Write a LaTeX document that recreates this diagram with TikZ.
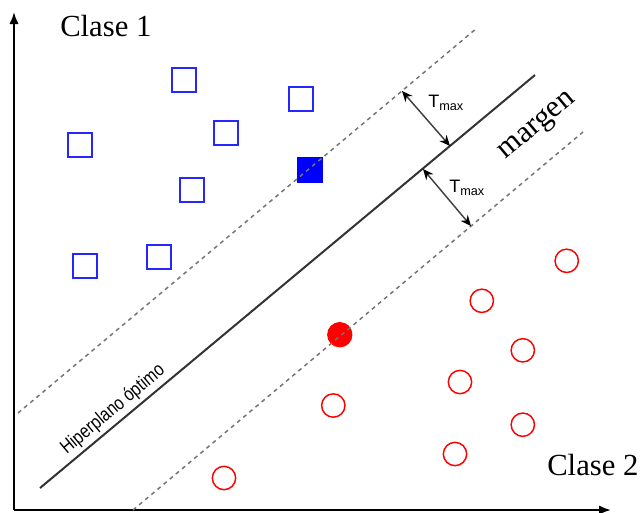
\documentclass[tikz,border=0pt]{standalone}
\usepackage{fontspec}
\setmainfont{Liberation Serif}
\setsansfont{Liberation Sans}
\newfontfamily\narrowsans[FakeStretch=0.82]{Liberation Sans}
\usetikzlibrary{arrows.meta}
\begin{document}
\begin{tikzpicture}[x=0.75pt,y=-0.75pt,
  sq/.style={draw=blue!85!white,line width=1.5pt,minimum size=18pt,inner sep=0pt},
  sqf/.style={draw=blue,fill=blue,line width=1pt,minimum size=19pt,inner sep=0pt},
  ci/.style={circle,draw=red,line width=1.1pt,minimum size=17.5pt,inner sep=0pt},
  cif/.style={circle,draw=red,fill=red,line width=1pt,minimum size=18pt,inner sep=0pt},
  axis/.style={line width=1.5pt,-{Latex[length=9pt,width=7pt]}},
  hyper/.style={line width=1.5pt,draw=black!80},
  marg/.style={dashed,dash pattern=on 3pt off 3pt,line width=1.1pt,draw=black!55},
  tarrow/.style={line width=1.1pt,draw=black!75,{Stealth[length=8pt,width=7pt,black]}-{Stealth[length=8pt,width=7pt,black]}},
  big/.style={font=\fontsize{23}{26}\selectfont},
  tlab/.style={font=\sffamily\fontsize{13.5}{14}\selectfont,inner sep=0pt}]
\useasboundingbox (0,0) rectangle (642,512);
% axes
\coordinate (o) at (14,510);
\coordinate (ytop) at (14,12);
\coordinate (xend) at (611,510);
\draw[axis] (o) -- (ytop);
\draw[axis] (o) -- (xend);
% class 1 squares
\node[sq] (s1) at (183.5,79.5) {};
\node[sq] (s2) at (301,99) {};
\node[sq] (s3) at (79.5,145) {};
\node[sq] (s4) at (226,133) {};
\node[sq] (s5) at (192,189.5) {};
\node[sq] (s6) at (84.5,266) {};
\node[sq] (s7) at (159,257) {};
\node[sqf] (sf) at (310,170) {};
% class 2 circles
\node[ci] (c1) at (566.7,260.8) {};
\node[ci] (c2) at (481.8,300.8) {};
\node[ci] (c3) at (522.8,350.3) {};
\node[ci] (c4) at (460,382) {};
\node[ci] (c5) at (333.3,405.5) {};
\node[ci] (c6) at (522.8,424.7) {};
\node[ci] (c7) at (455,454) {};
\node[ci] (c8) at (224,478) {};
\node[cif] (cf) at (339.8,334.7) {};
% lines
\coordinate (ua) at (18,413);
\coordinate (ub) at (477,28);
\coordinate (ma) at (40,488);
\coordinate (mb) at (535,75);
\coordinate (la) at (133,510);
\coordinate (lb) at (583,132);
\draw[marg] (ua) -- (ub);
\draw[marg] (la) -- (lb);
\draw[hyper] (ma) -- node[pos=0.165,sloped,above,inner sep=2.5pt,font=\narrowsans\fontsize{14.5}{15}\selectfont] (hl) {Hiperplano óptimo} (mb);
% Tmax arrows
\coordinate (t1a) at (402,91);
\coordinate (t1b) at (450,146);
\coordinate (t2a) at (423,169);
\coordinate (t2b) at (471,226);
\draw[tarrow] (t1a) -- (t1b);
\draw[tarrow] (t2a) -- (t2b);
\node[tlab,anchor=base west] (tl1) at (428,107) {T{\fontsize{9.5}{10}\selectfont\raisebox{-2.5pt}{max}}};
\node[tlab,anchor=base west] (tl2) at (449,192) {T{\fontsize{9.5}{10}\selectfont\raisebox{-2.5pt}{max}}};
% texts
\node[big,anchor=base west,inner sep=0pt] (cl1) at (60,36) {Clase 1};
\node[big,anchor=base west,inner sep=0pt] (cl2) at (547,475) {Clase 2};
\node[big,rotate=40,inner sep=0pt] (mg) at (538,127) {margen};
\end{tikzpicture}
\end{document}
